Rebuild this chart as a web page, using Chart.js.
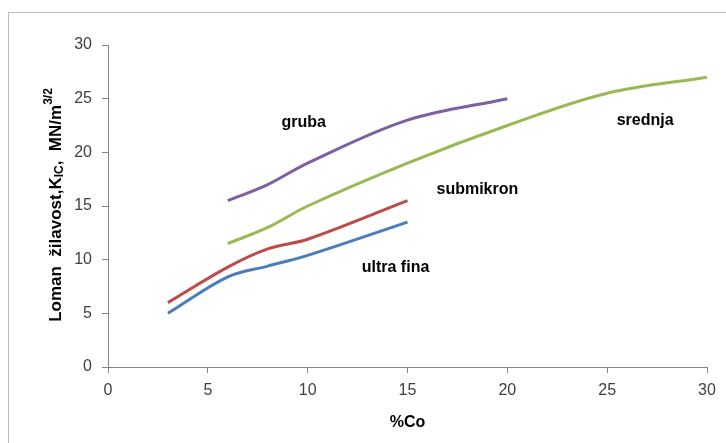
<!DOCTYPE html>
<html>
<head>
<meta charset="utf-8">
<script src="https://cdn.jsdelivr.net/npm/chart.js@4/dist/chart.umd.min.js"></script>
<style>
  html, body { margin: 0; padding: 0; background: #fff; }
  #wrap { width: 726px; height: 443px; }
</style>
</head>
<body>
<div id="wrap"><canvas id="kicChart" width="726" height="443"></canvas></div>
<script>
// values (x = %Co, y = K_IC)
const xTicks = [0, 5, 10, 15, 20, 25, 30];
const yTicks = [0, 5, 10, 15, 20, 25, 30];

const seriesNames = ['ultra fina', 'submikron', 'srednja', 'gruba'];
const ultraFinaX = [3, 6, 8, 10, 15];
const ultraFinaY = [5, 8.4, 9.4, 10.4, 13.5];
const submikronX = [3, 6, 8, 10, 15];
const submikronY = [6, 9.3, 11, 11.9, 15.5];
const srednjaX = [6, 8, 10, 15, 20, 25, 30];
const srednjaY = [11.5, 13, 15, 19, 22.5, 25.5, 27];
const grubaX = [6, 8, 10, 15, 20];
const grubaY = [15.5, 17, 19, 23, 25];

const colors = ['#4A7EBB', '#BE4B48', '#98B954', '#7D60A0'];

function pts(xs, ys) {
    return xs.map((x, i) => ({ x: x, y: ys[i] }));
}

// series labels placed next to the curves (data coords)
const curveLabels = [
    { text: 'gruba', x: 9.8, y: 22.8 },
    { text: 'srednja', x: 26.9, y: 23.0 },
    { text: 'submikron', x: 18.5, y: 16.5 },
    { text: 'ultra fina', x: 14.4, y: 9.3 }
];

const FONT = '"Liberation Sans", Arial, sans-serif';

const extras = {
    id: 'extras',
    beforeDraw(chart) {
        const c = chart.ctx;
        c.save();
        c.strokeStyle = '#BFBFBF';
        c.lineWidth = 1;
        c.strokeRect(8.5, 12.5, 730, 450);
        c.restore();
    },
    afterDraw(chart) {
        const c = chart.ctx;
        const xs = chart.scales.x, ys = chart.scales.y;
        c.save();
        c.fillStyle = '#000';
        c.font = 'bold 16px ' + FONT;
        c.textAlign = 'center';
        c.textBaseline = 'middle';
        curveLabels.forEach(l => {
            c.fillText(l.text, xs.getPixelForValue(l.x), ys.getPixelForValue(l.y));
        });

        // x axis title
        c.fillText('%Co', (chart.chartArea.left + chart.chartArea.right) / 2, 423);

        // y axis title with sub / superscripts
        const parts = [
            { t: 'Loman  žilavost,K', size: 17, dy: 0 },
            { t: 'IC', size: 12, dy: 4 },
            { t: ',  MN/m', size: 17, dy: 0 },
            { t: '3/2', size: 12, dy: -7 }
        ];
        let total = 0;
        parts.forEach(p => {
            c.font = 'bold ' + p.size + 'px ' + FONT;
            p.w = c.measureText(p.t).width;
            total += p.w;
        });
        c.translate(56, 205);
        c.rotate(-Math.PI / 2);
        c.textAlign = 'left';
        let px = -total / 2;
        parts.forEach(p => {
            c.font = 'bold ' + p.size + 'px ' + FONT;
            c.fillText(p.t, px, p.dy);
            px += p.w;
        });
        c.restore();
    }
};

const tickFont = { family: FONT, size: 16 };

new Chart(document.getElementById('kicChart').getContext('2d'), {
    type: 'line',
    data: {
        datasets: [
            { label: seriesNames[0], data: pts(ultraFinaX, ultraFinaY) },
            { label: seriesNames[1], data: pts(submikronX, submikronY) },
            { label: seriesNames[2], data: pts(srednjaX, srednjaY) },
            { label: seriesNames[3], data: pts(grubaX, grubaY) }
        ].map((d, i) => Object.assign(d, {
            borderColor: colors[i],
            backgroundColor: colors[i],
            borderWidth: 3,
            pointRadius: 0,
            tension: 0.35,
            fill: false
        }))
    },
    options: {
        responsive: false,
        animation: false,
        devicePixelRatio: 1,
        layout: { padding: { left: 0, top: 45, right: 19, bottom: 0 } },
        plugins: { legend: { display: false }, tooltip: { enabled: false } },
        scales: {
            x: {
                type: 'linear',
                min: 0, max: 30,
                afterBuildTicks: s => { s.ticks = xTicks.map(v => ({ value: v })); },
                afterFit: s => { s.height = 76; },
                grid: { display: true, drawOnChartArea: false, drawTicks: true, tickLength: 6, color: '#868686' },
                border: { color: '#868686' },
                ticks: { font: tickFont, color: '#404040', padding: 8, maxRotation: 0 }
            },
            y: {
                type: 'linear',
                min: 0, max: 30,
                afterBuildTicks: s => { s.ticks = yTicks.map(v => ({ value: v })); },
                afterFit: s => { s.width = 108; },
                grid: { display: true, drawOnChartArea: false, drawTicks: true, tickLength: 6, color: '#868686' },
                border: { color: '#868686' },
                ticks: { font: tickFont, color: '#404040', padding: 10 }
            }
        }
    },
    plugins: [extras]
});
</script>
</body>
</html>
